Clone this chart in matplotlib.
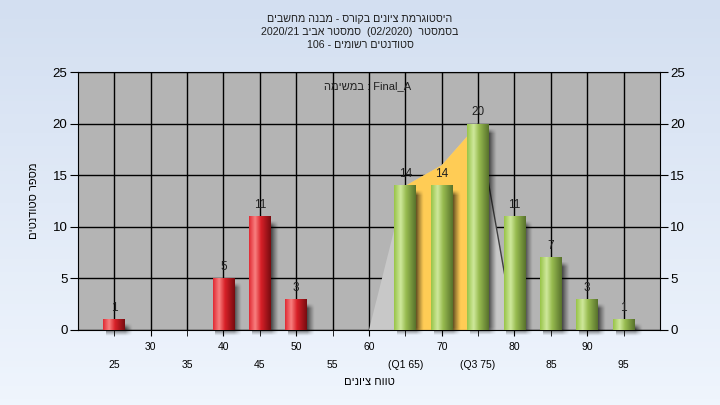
import numpy as np
import matplotlib.pyplot as plt
from matplotlib.patches import Polygon

# data
grades = [25, 40, 45, 50, 65, 70, 75, 80, 85, 90, 95]
counts = [1, 5, 11, 3, 14, 14, 20, 11, 7, 3, 1]
pass_grade = 60

curve_x = [60, 65, 70, 75, 80]
curve_y = [0, 14, 16, 20, 0]
q1, q3 = 65, 75

tick_even = [30, 40, 50, 60, 70, 80, 90]
tick_odd = [25, 35, 45, 55, 65, 75, 85, 95]
labels_even = ['30', '40', '50', '60', '70', '80', '90']
labels_odd = ['25', '35', '45', '55', '(Q1 65)', '(Q3 75)', '85', '95']
y_ticks = [0, 5, 10, 15, 20, 25]

title_lines = ['היסטוגרמת ציונים בקורס - מבנה מחשבים',
               'בסמסטר  (02/2020)  סמסטר אביב 2020/21',
               'סטודנטים רשומים - 106']
task_label = 'Final_A : במשימה'
x_label = 'טווח ציונים'
y_label = 'מספר סטודנטים'

FONT = ['Liberation Sans', 'DejaVu Sans']
plt.rcParams['font.family'] = FONT


def rtl(s):
    # matplotlib has no bidi, so put hebrew words in visual order
    out = []
    for tok in s.split(' ')[::-1]:
        if any('\u0590' <= ch <= '\u05ff' for ch in tok):
            tok = tok[::-1]
        out.append(tok)
    return ' '.join(out)


def gradient(stops, cols, n=64):
    t = np.linspace(0, 1, n)
    rgb = np.array([[int(c[i:i + 2], 16) / 255 for i in (1, 3, 5)] for c in cols])
    g = np.stack([np.interp(t, stops, rgb[:, k]) for k in range(3)], axis=-1)
    return g[np.newaxis, :, :]


red_grad = gradient([0, 0.28, 0.55, 1], ['#e02a34', '#f88080', '#d82028', '#780c10'])
green_grad = gradient([0, 0.3, 0.55, 1], ['#98c448', '#cfe89c', '#98bc50', '#58722c'])

fig = plt.figure(figsize=(7.2, 4.05), dpi=100)

# background gradient
bg = fig.add_axes([0, 0, 1, 1], zorder=-10)
bgc = gradient([0, 1], ['#eff5fd', '#d3dff1'])
bg.imshow(np.transpose(bgc, (1, 0, 2)), aspect='auto', extent=[0, 1, 0, 1], origin='lower')
bg.axis('off')

ax = fig.add_axes([0.1083, 0.1852, 0.8083, 0.6358])
ax.set_facecolor('#b4b4b4')
ax.set_axisbelow(True)

# distribution area
pts = list(zip(curve_x, curve_y))
ax.add_patch(Polygon(pts, closed=True, facecolor='#c8c8c8', edgecolor='none', zorder=1))
qx = [x for x in curve_x if q1 <= x <= q3]
qy = [y for x, y in zip(curve_x, curve_y) if q1 <= x <= q3]
ax.add_patch(Polygon([(q1, 0)] + list(zip(qx, qy)) + [(q3, 0)], closed=True,
                     facecolor='#ffcc55', edgecolor='none', zorder=1.1))
ax.plot(curve_x[-2:], curve_y[-2:], color='#404040', lw=1, zorder=1.2)

w = 3
for g, c in zip(grades, counts):
    # soft shadow, right and below the bar
    x0, x1 = g - w / 2 + 0.4, g + w / 2 + 1.0
    y0, y1 = -0.6, c - 0.4
    xs = np.linspace(x0, x1, 60)
    ys = np.linspace(y0, y1, 80)
    fx = np.clip((x1 - xs) / 1.0, 0, 1)
    fy = np.clip((ys - y0) / 0.6, 0, 1) * np.clip((y1 - ys) / 0.5, 0, 1)
    alpha = 0.6 * np.outer(fy, fx) ** 1.2
    sh = np.zeros((len(ys), len(xs), 4))
    sh[..., 3] = alpha
    im = ax.imshow(sh, extent=[x0, x1, y0, y1], origin='lower', aspect='auto', zorder=2,
                   interpolation='bilinear')
    im.set_clip_on(False)

    grad = red_grad if g < pass_grade else green_grad
    ax.imshow(grad, extent=[g - w / 2, g + w / 2, 0, c], aspect='auto', zorder=3,
              interpolation='bilinear')
    ax.annotate(str(c), (g, c), xytext=(0, 4), textcoords='offset points',
                ha='center', va='bottom', fontsize=8.5, color='#202020', zorder=4)

ax.set_xlim(20, 100)
ax.set_ylim(0, 25)

ax.set_xticks(tick_even, labels_even)
ax.set_xticks(tick_odd, labels_odd, minor=True)
ax.tick_params(axis='x', which='major', length=4, pad=4.5, labelsize=7.5)
ax.tick_params(axis='x', which='minor', length=4, pad=17.5, labelsize=7.5)
ax.set_yticks(y_ticks)
ax.tick_params(axis='y', length=6, pad=1.5, labelsize=9.5, left=True, right=True,
               labelleft=True, labelright=True)
ax.grid(True, which='both', axis='x', color='black', lw=1)
ax.grid(True, which='major', axis='y', color='black', lw=1)
for s in ax.spines.values():
    s.set_color('black')

ax.text(0.497, 0.948, rtl(task_label), transform=ax.transAxes, ha='center', va='center',
        fontsize=8, color='#202020', zorder=5)

ax.set_xlabel(rtl(x_label), fontsize=8, labelpad=5)
ax.set_ylabel(rtl(y_label), fontsize=8, labelpad=10)

for i, line in enumerate(title_lines):
    fig.text(0.5, 0.954 - i * 0.032, rtl(line), ha='center', va='center', fontsize=7.7,
             color='#202020')

fig.savefig('out.png', dpi=100)
